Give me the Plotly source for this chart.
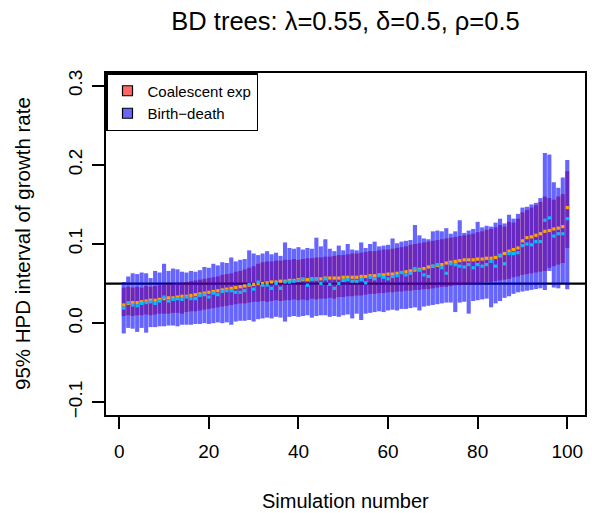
import plotly.graph_objects as go

sim = list(range(1, 101))

coal_median = [
    0.023, 0.025, 0.026, 0.026, 0.027, 0.028, 0.029, 0.029, 0.030, 0.031,
    0.032, 0.032, 0.033, 0.034, 0.034, 0.035, 0.036, 0.037, 0.038, 0.039,
    0.040, 0.041, 0.042, 0.043, 0.044, 0.045, 0.046, 0.047, 0.048, 0.049,
    0.050, 0.050, 0.051, 0.052, 0.052, 0.053, 0.053, 0.054, 0.054, 0.055,
    0.055, 0.055, 0.056, 0.056, 0.056, 0.057, 0.057, 0.057, 0.057, 0.058,
    0.058, 0.058, 0.058, 0.059, 0.059, 0.060, 0.060, 0.061, 0.061, 0.062,
    0.062, 0.063, 0.064, 0.065, 0.066, 0.067, 0.068, 0.069, 0.071, 0.072,
    0.073, 0.074, 0.076, 0.077, 0.078, 0.079, 0.080, 0.080, 0.080, 0.081,
    0.081, 0.082, 0.082, 0.083, 0.085, 0.088, 0.091, 0.093, 0.095, 0.104,
    0.108, 0.109, 0.111, 0.113, 0.116, 0.117, 0.119, 0.120, 0.122, 0.146,
]

coal_lower = [
    0.009, 0.010, 0.009, 0.010, 0.010, 0.011, 0.010, 0.011, 0.012, 0.012,
    0.012, 0.013, 0.013, 0.012, 0.014, 0.015, 0.015, 0.016, 0.017, 0.018,
    0.019, 0.020, 0.021, 0.022, 0.023, 0.024, 0.025, 0.025, 0.026, 0.027,
    0.027, 0.028, 0.027, 0.028, 0.029, 0.028, 0.029, 0.029, 0.030, 0.029,
    0.030, 0.029, 0.031, 0.030, 0.031, 0.031, 0.032, 0.031, 0.033, 0.033,
    0.034, 0.034, 0.035, 0.035, 0.036, 0.037, 0.037, 0.038, 0.038, 0.039,
    0.039, 0.040, 0.040, 0.041, 0.041, 0.042, 0.042, 0.043, 0.043, 0.044,
    0.045, 0.046, 0.046, 0.047, 0.048, 0.048, 0.049, 0.049, 0.050, 0.050,
    0.051, 0.052, 0.052, 0.053, 0.054, 0.055, 0.056, 0.058, 0.059, 0.061,
    0.062, 0.063, 0.064, 0.065, 0.066, 0.070, 0.072, 0.074, 0.076, 0.095,
]

coal_upper = [
    0.045, 0.046, 0.045, 0.046, 0.045, 0.047, 0.046, 0.047, 0.048, 0.049,
    0.049, 0.050, 0.051, 0.051, 0.052, 0.053, 0.054, 0.055, 0.056, 0.057,
    0.058, 0.059, 0.061, 0.062, 0.063, 0.065, 0.066, 0.068, 0.070, 0.072,
    0.075, 0.077, 0.078, 0.078, 0.079, 0.079, 0.080, 0.080, 0.081, 0.080,
    0.081, 0.082, 0.082, 0.083, 0.083, 0.084, 0.084, 0.085, 0.086, 0.086,
    0.087, 0.088, 0.088, 0.089, 0.090, 0.091, 0.091, 0.092, 0.093, 0.093,
    0.094, 0.095, 0.096, 0.097, 0.099, 0.100, 0.101, 0.102, 0.103, 0.104,
    0.105, 0.106, 0.107, 0.108, 0.109, 0.110, 0.111, 0.112, 0.113, 0.115,
    0.116, 0.118, 0.119, 0.121, 0.124, 0.122, 0.128, 0.127, 0.132, 0.140,
    0.143, 0.146, 0.149, 0.153, 0.160, 0.158, 0.156, 0.160, 0.163, 0.192,
]

bd_median = [
    0.019, 0.026, 0.023, 0.022, 0.025, 0.026, 0.027, 0.025, 0.028, 0.033,
    0.028, 0.030, 0.031, 0.030, 0.033, 0.031, 0.031, 0.035, 0.036, 0.033,
    0.038, 0.036, 0.040, 0.041, 0.041, 0.039, 0.039, 0.041, 0.049, 0.043,
    0.052, 0.048, 0.048, 0.044, 0.050, 0.044, 0.052, 0.052, 0.053, 0.054,
    0.056, 0.048, 0.055, 0.056, 0.050, 0.056, 0.049, 0.044, 0.050, 0.054,
    0.055, 0.053, 0.053, 0.055, 0.051, 0.058, 0.056, 0.060, 0.058, 0.056,
    0.059, 0.060, 0.064, 0.061, 0.063, 0.069, 0.067, 0.061, 0.059, 0.072,
    0.074, 0.070, 0.063, 0.075, 0.074, 0.072, 0.071, 0.074, 0.070, 0.074,
    0.072, 0.074, 0.078, 0.072, 0.086, 0.075, 0.088, 0.088, 0.089, 0.098,
    0.100, 0.099, 0.103, 0.103, 0.130, 0.133, 0.110, 0.113, 0.113, 0.132,
]

bd_lower = [
    -0.013, -0.006, -0.007, -0.011, -0.006, -0.012, -0.005, -0.005, -0.004, -0.004,
    -0.003, -0.003, -0.004, -0.002, -0.002, -0.002, -0.001, -0.001, 0.000, -0.001,
    0.000, 0.001, 0.000, 0.001, -0.002, 0.002, 0.003, 0.003, 0.004, 0.002,
    0.005, 0.006, 0.007, 0.006, 0.008, 0.007, 0.002, 0.008, 0.009, 0.008,
    0.009, 0.010, 0.007, 0.009, 0.010, 0.010, 0.008, 0.009, 0.008, 0.010,
    0.011, 0.006, 0.012, 0.004, 0.012, 0.013, 0.014, 0.015, 0.014, 0.016,
    0.017, 0.016, 0.018, 0.018, 0.019, 0.020, 0.016, 0.021, 0.022, 0.023,
    0.024, 0.025, 0.026, 0.026, 0.014, 0.026, 0.027, 0.012, 0.028, 0.029,
    0.030, 0.031, 0.020, 0.025, 0.028, 0.032, 0.034, 0.037, 0.039, 0.040,
    0.041, 0.042, 0.043, 0.044, 0.042, 0.066, 0.045, 0.044, 0.050, 0.043,
]

bd_upper = [
    0.052, 0.059, 0.063, 0.062, 0.064, 0.063, 0.057, 0.066, 0.064, 0.075,
    0.066, 0.069, 0.068, 0.065, 0.064, 0.066, 0.065, 0.067, 0.071, 0.070,
    0.075, 0.073, 0.077, 0.076, 0.083, 0.078, 0.080, 0.081, 0.092, 0.088,
    0.086, 0.088, 0.091, 0.087, 0.089, 0.085, 0.102, 0.095, 0.094, 0.096,
    0.093, 0.095, 0.094, 0.108, 0.097, 0.106, 0.094, 0.091, 0.098, 0.092,
    0.100, 0.093, 0.092, 0.102, 0.095, 0.100, 0.103, 0.097, 0.098, 0.099,
    0.107, 0.101, 0.103, 0.104, 0.105, 0.124, 0.111, 0.107, 0.106, 0.116,
    0.117, 0.116, 0.120, 0.113, 0.116, 0.130, 0.114, 0.117, 0.119, 0.128,
    0.121, 0.123, 0.122, 0.127, 0.132, 0.126, 0.137, 0.132, 0.138, 0.146,
    0.147, 0.150, 0.152, 0.158, 0.215, 0.213, 0.178, 0.171, 0.184, 0.206,
]

x_ticks = [0, 20, 40, 60, 80, 100]
y_ticks = [-0.1, 0.0, 0.1, 0.2, 0.3]
y_tick_text = ["\u22120.1", "0.0", "0.1", "0.2", "0.3"]
ref_line = 0.05

RED = "rgba(255,0,0,0.6)"
BLUE = "rgba(0,0,255,0.6)"
FONT = "Liberation Sans, Arial, sans-serif"

fig = go.Figure()
fig.add_trace(go.Bar(
    x=sim, y=[u - l for u, l in zip(coal_upper, coal_lower)], base=coal_lower,
    width=0.92, marker=dict(color=RED, line=dict(width=0)), showlegend=False,
    name="Coalescent exp"))
fig.add_trace(go.Bar(
    x=sim, y=[u - l for u, l in zip(bd_upper, bd_lower)], base=bd_lower,
    width=0.92, marker=dict(color=BLUE, line=dict(width=0)), showlegend=False,
    name="Birth\u2212death"))
fig.add_trace(go.Scatter(
    x=sim, y=coal_median, mode="markers", showlegend=False,
    marker=dict(symbol="square", size=3.2, color="orange", line=dict(width=0))))
fig.add_trace(go.Scatter(
    x=sim, y=bd_median, mode="markers", showlegend=False,
    marker=dict(symbol="square", size=3.2, color="deepskyblue", line=dict(width=0))))

# legend entries
fig.add_trace(go.Scatter(
    x=[None], y=[None], mode="markers", name="Coalescent exp",
    marker=dict(symbol="square", size=10, color="rgb(255,102,102)",
                line=dict(color="black", width=1.2))))
fig.add_trace(go.Scatter(
    x=[None], y=[None], mode="markers", name="Birth\u2212death",
    marker=dict(symbol="square", size=10, color="rgb(102,102,255)",
                line=dict(color="black", width=1.2))))

fig.add_shape(type="line", xref="paper", x0=0, x1=1, yref="y", y0=ref_line, y1=ref_line,
              line=dict(color="black", width=2.2), layer="below")

fig.update_layout(
    width=592, height=513,
    margin=dict(l=106, r=5, t=73, b=98),
    paper_bgcolor="white", plot_bgcolor="white",
    barmode="overlay",
    font=dict(family=FONT, color="black"),
    title=dict(text="BD trees: \u03bb=0.55, \u03b4=0.5, \u03c1=0.5",
               x=0.5, xref="paper", xanchor="center",
               y=1 - 21 / 513, yref="container", yanchor="middle",
               font=dict(size=25.5, family=FONT, color="black")),
    showlegend=True,
    legend=dict(x=0, y=1, xanchor="left", yanchor="top",
                bgcolor="white", bordercolor="black", borderwidth=1.5,
                font=dict(size=15, family=FONT, color="black"),
                tracegroupgap=0, itemsizing="trace"),
    xaxis=dict(range=[-2.96, 103.96], tickvals=x_ticks, ticks="outside",
               ticklen=12, tickwidth=1.5, tickcolor="black",
               showline=True, linecolor="black", linewidth=1.5, mirror=True,
               showgrid=False, zeroline=False, ticklabelstandoff=6,
               tickfont=dict(size=19, family=FONT, color="black")),
    yaxis=dict(range=[-0.116, 0.316], tickvals=y_ticks, ticktext=y_tick_text,
               ticks="outside", ticklen=12, tickwidth=1.5, tickcolor="black",
               tickangle=-90, ticklabelstandoff=3,
               showline=True, linecolor="black", linewidth=1.5, mirror=True,
               showgrid=False, zeroline=False,
               tickfont=dict(size=19, family=FONT, color="black")),
    annotations=[
        dict(text="Simulation number", xref="paper", yref="paper", x=0.5, y=0,
             xanchor="center", yanchor="middle", yshift=-86, showarrow=False,
             font=dict(size=20, family=FONT, color="black")),
        dict(text="95% HPD interval of growth rate", xref="paper", yref="paper",
             x=0, y=0.5, xanchor="center", yanchor="middle", xshift=-84,
             textangle=-90, showarrow=False,
             font=dict(size=20.5, family=FONT, color="black")),
    ],
)

fig.write_html("out.html")
